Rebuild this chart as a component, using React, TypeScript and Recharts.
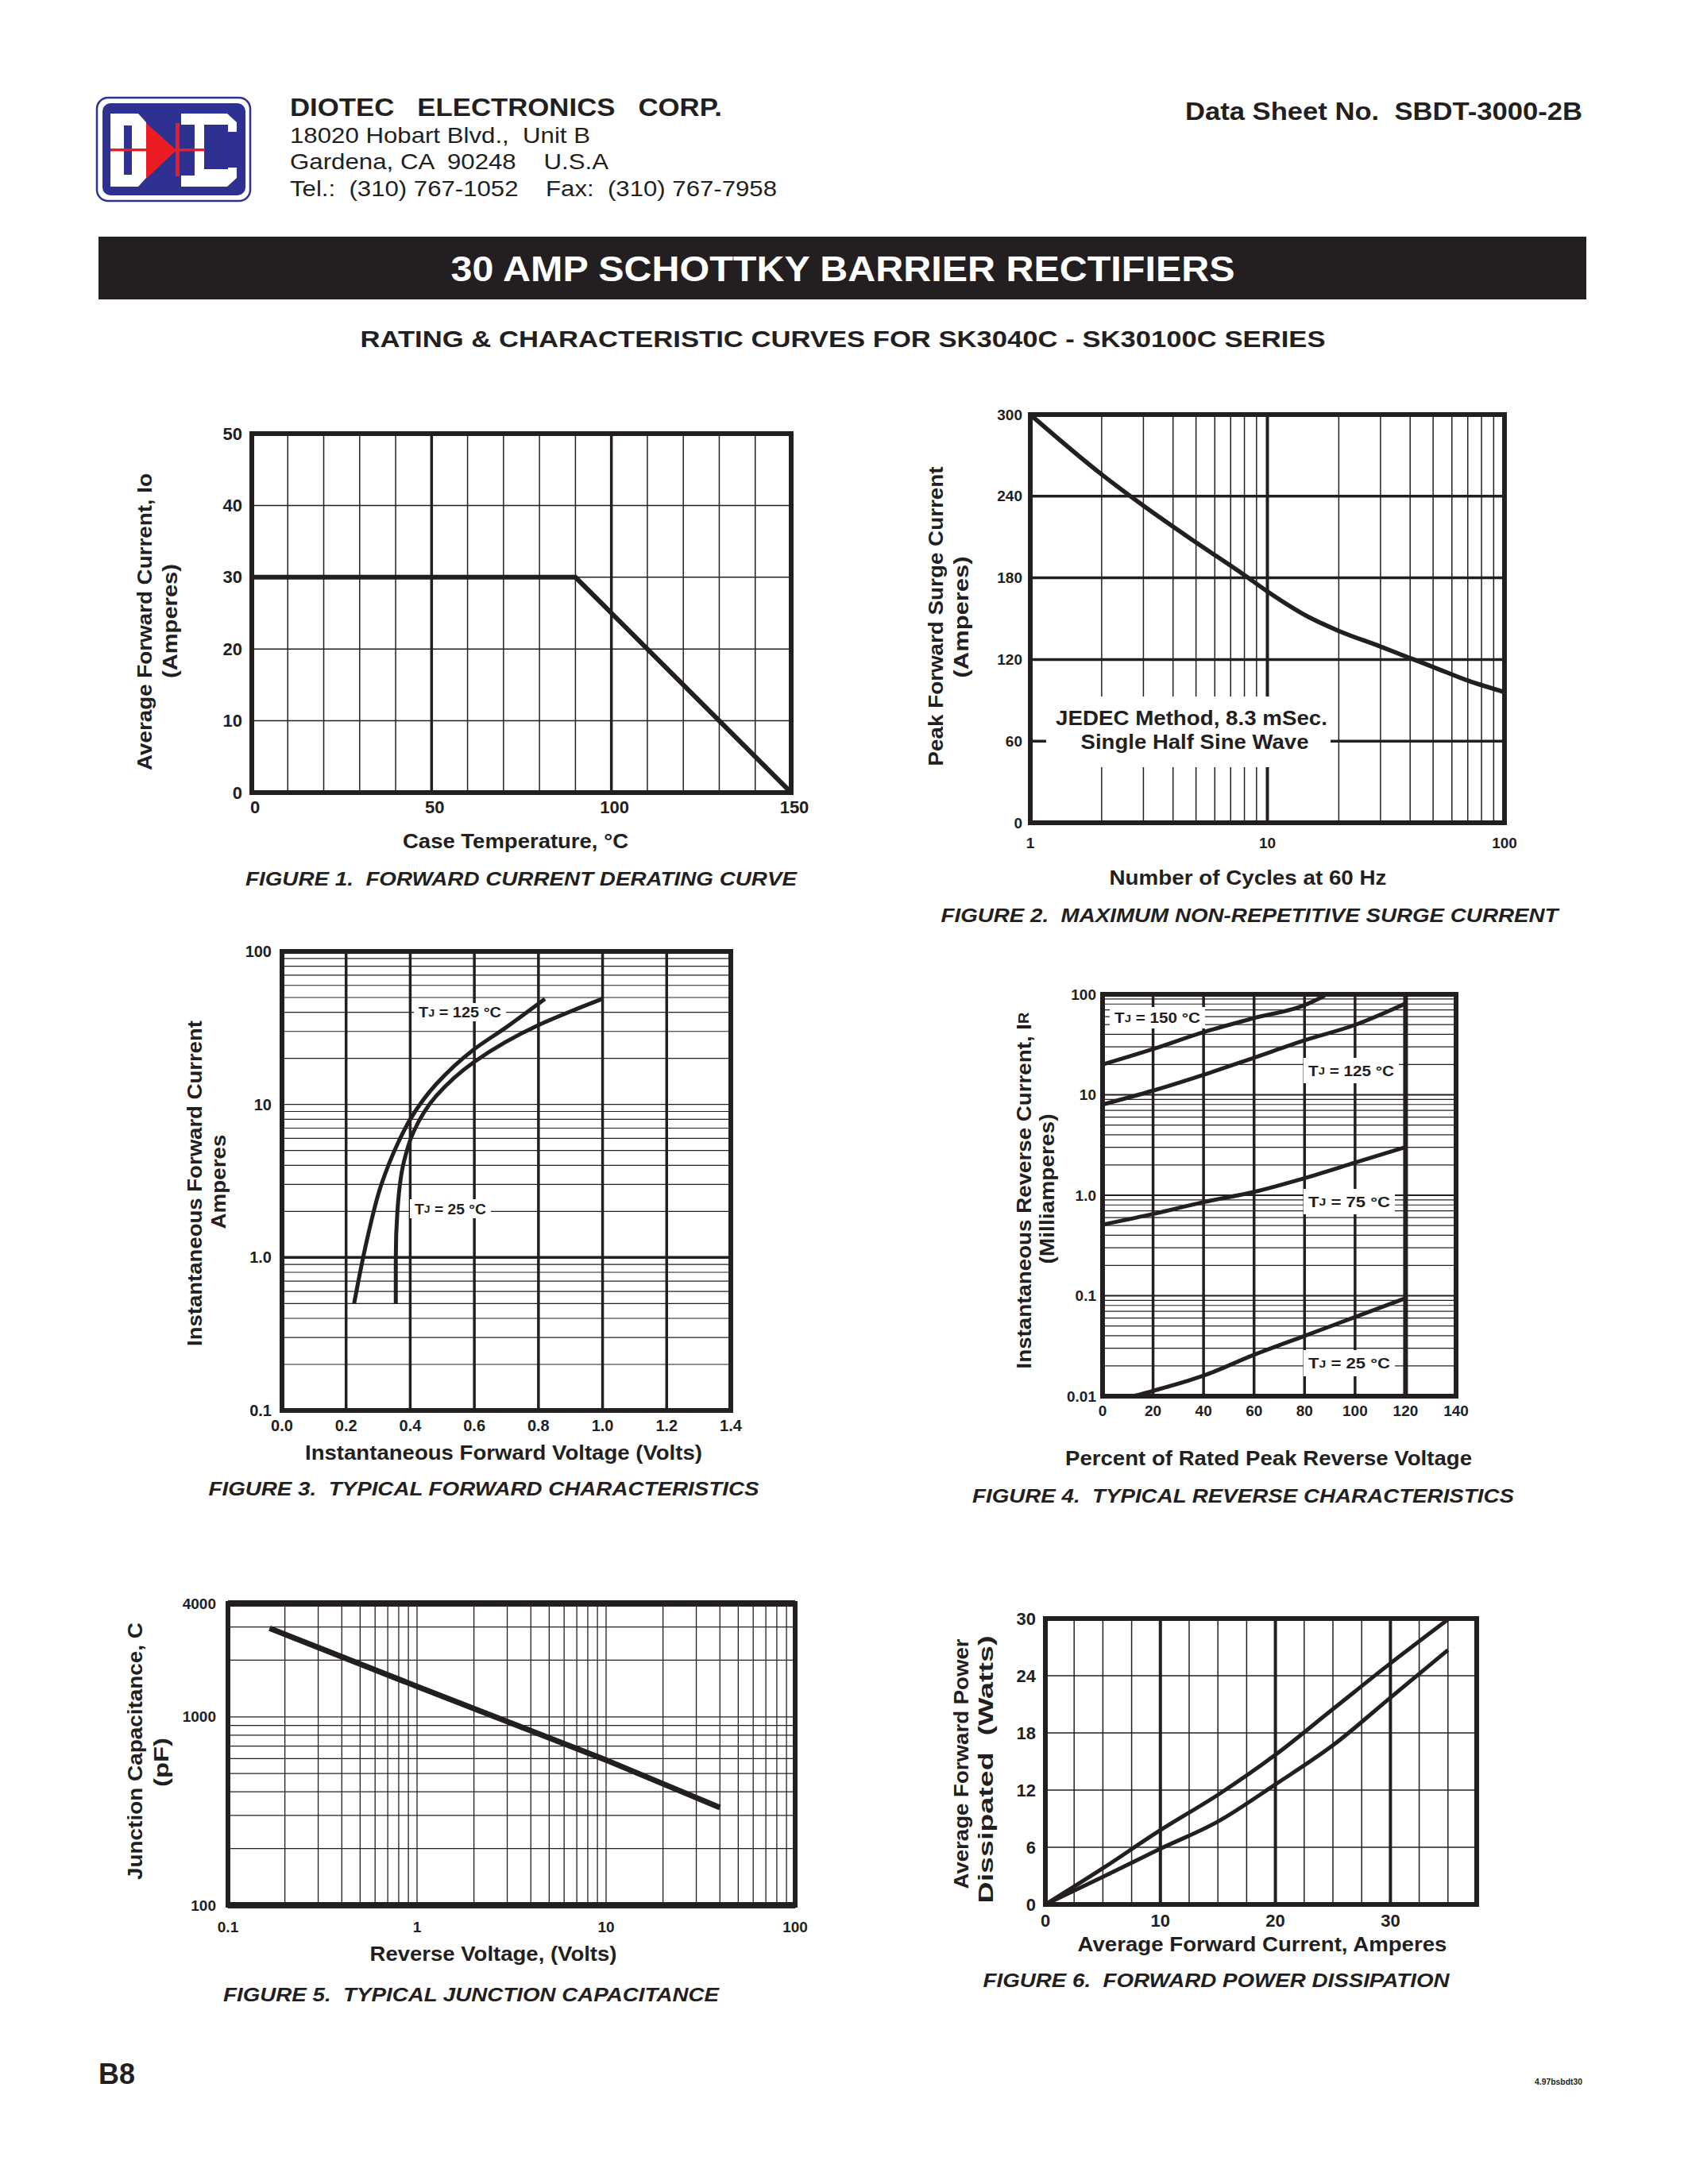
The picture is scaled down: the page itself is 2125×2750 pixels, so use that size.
import React from "react";
import { LineChart, Line, XAxis, YAxis, ReferenceLine, ReferenceArea } from "recharts";

const INK = "#231f20";
const BLUE = "#2e3192";
const RED = "#ed1c24";
const FONT = "'Liberation Sans', Arial, Helvetica, sans-serif";

// Figure 1 - derating
const fig1Temp = [0, 90, 150];
const fig1Current = [30, 30, 0];
const fig1XTicks = [0, 50, 100, 150];
const fig1YTicks = [0, 10, 20, 30, 40, 50];

// Figure 2 - surge current
const fig2Cycles = [1, 2, 3, 5, 8, 10, 15, 20, 30, 40, 50, 70, 100];
const fig2Surge = [300, 256, 233, 206, 182, 170, 151, 141, 129.5, 121, 114.5, 104.5, 96];
const fig2XTicks = [1, 10, 100];
const fig2YTicks = [0, 60, 120, 180, 240, 300];

// Figure 3 - forward characteristics
const fig3Volt125 = [0.225, 0.265, 0.31, 0.36, 0.4, 0.48, 0.6, 0.7, 0.82];
const fig3Amp125 = [0.5, 1.3, 3.0, 5.5, 8.0, 13.5, 23, 32, 49];
const fig3Volt25 = [0.355, 0.355, 0.36, 0.38, 0.41, 0.48, 0.6, 0.8, 1.0];
const fig3Amp25 = [0.5, 1.0, 2.0, 4.2, 6.6, 11.3, 19, 33, 49];
const fig3XTicks = [0, 0.2, 0.4, 0.6, 0.8, 1.0, 1.2, 1.4];
const fig3XLabels = ["0.0", "0.2", "0.4", "0.6", "0.8", "1.0", "1.2", "1.4"];
const fig3YTicks = [0.1, 1, 10, 100];
const fig3YLabels = ["0.1", "1.0", "10", "100"];

// Figure 4 - reverse characteristics
const fig4Pct150 = [0, 20, 40, 60, 80, 88];
const fig4Ir150 = [20, 28.5, 42, 58, 78, 97];
const fig4Pct125 = [0, 20, 40, 60, 80, 100, 120];
const fig4Ir125 = [8, 11, 15.8, 23.4, 34.8, 49.6, 81];
const fig4Pct75 = [0, 20, 40, 60, 80, 100, 120];
const fig4Ir75 = [0.51, 0.65, 0.855, 1.08, 1.48, 2.11, 3.02];
const fig4Pct25 = [12, 20, 40, 60, 80, 100, 120];
const fig4Ir25 = [0.01, 0.0113, 0.016, 0.0258, 0.0398, 0.0613, 0.0946];
const fig4XTicks = [0, 20, 40, 60, 80, 100, 120, 140];
const fig4YTicks = [0.01, 0.1, 1, 10, 100];
const fig4YLabels = ["0.01", "0.1", "1.0", "10", "100"];

// Figure 5 - junction capacitance
const fig5Volt = [0.166, 1, 10, 40];
const fig5Cap = [2950, 1450, 590, 330];
const fig5XTicks = [0.1, 1, 10, 100];
const fig5YTicks = [100, 1000, 4000];

// Figure 6 - power dissipation
const fig6AmpA = [0, 5, 10, 15, 20, 25, 30, 35];
const fig6WattA = [0, 3.8, 7.8, 11.5, 15.7, 20.5, 25.3, 29.9];
const fig6AmpB = [0, 5, 10, 15, 20, 25, 30, 35];
const fig6WattB = [0, 2.9, 5.85, 8.7, 12.6, 16.7, 21.7, 26.7];
const fig6XTicks = [0, 10, 20, 30];
const fig6YTicks = [0, 6, 12, 18, 24, 30];
const fig6XMinor = [2.5, 5, 7.5, 12.5, 15, 17.5, 22.5, 25, 27.5, 32.5, 35];

const zip = (xs: number[], ys: number[]) => xs.map((x, i) => ({ x, y: ys[i] }));

// 2..9 multiples of each decade between lo and hi
const logGrid = (lo: number, hi: number) => {
  const out: number[] = [];
  for (let d = lo; d < hi; d *= 10) {
    for (let m = 2; m <= 9; m++) {
      const v = +(d * m).toPrecision(3);
      if (v < hi) out.push(v);
    }
  }
  return out;
};

type Box = { x: number; y: number; w: number; h: number };

function tickText(size: number, anchor: "end" | "middle", dx = 0, values?: number[], labels?: string[]) {
  return (p: any) => {
    const v = p.payload?.value;
    const i = values ? values.indexOf(v) : -1;
    const label = i >= 0 && labels ? labels[i] : String(v);
    return (
      <text x={p.x + dx} y={p.y} textAnchor={anchor} dominantBaseline="central" fontSize={size}
        fontWeight="bold" fontFamily={FONT} fill={INK}>
        {label}
      </text>
    );
  };
}

const vLines = (vals: number[], w: number) =>
  vals.map((v) => <ReferenceLine key={`v${v}-${w}`} x={v} stroke={INK} strokeWidth={w} />);
const hLines = (vals: number[], w: number) =>
  vals.map((v) => <ReferenceLine key={`h${v}-${w}`} y={v} stroke={INK} strokeWidth={w} />);

function Chart(props: {
  box: Box;
  xDomain: [number, number];
  yDomain: [number, number];
  xLog?: boolean;
  yLog?: boolean;
  xTicks: number[];
  yTicks: number[];
  xGap: number;
  yGap: number;
  xTick: any;
  yTick: any;
  children: React.ReactNode;
}) {
  const { box } = props;
  return (
    <div style={{ position: "absolute", left: box.x - 100, top: box.y - 20 }}>
      <LineChart width={box.w + 140} height={box.h + 70} margin={{ top: 20, right: 40, bottom: 10, left: 0 }}>
        <XAxis type="number" dataKey="x" scale={props.xLog ? "log" : "linear"} domain={props.xDomain}
          ticks={props.xTicks} interval={0} allowDataOverflow axisLine={false} tickLine={false}
          tickSize={0} tickMargin={props.xGap} height={40} tick={props.xTick} />
        <YAxis type="number" dataKey="y" scale={props.yLog ? "log" : "linear"} domain={props.yDomain}
          ticks={props.yTicks} interval={0} allowDataOverflow axisLine={false} tickLine={false}
          tickSize={0} tickMargin={props.yGap} width={100} tick={props.yTick} />
        {props.children}
        <ReferenceArea x1={props.xDomain[0]} x2={props.xDomain[1]} y1={props.yDomain[0]} y2={props.yDomain[1]}
          fill="none" fillOpacity={0} stroke={INK} strokeWidth={6} />
      </LineChart>
    </div>
  );
}

function curve(data: { x: number; y: number }[], width: number, type: any = "monotone") {
  return (
    <Line data={data} dataKey="y" type={type} stroke={INK} strokeWidth={width} dot={false}
      activeDot={false} isAnimationActive={false} />
  );
}

function Txt(p: {
  x: number; y: number; size: number; children: React.ReactNode; len?: number;
  anchor?: "start" | "middle" | "end"; weight?: string; italic?: boolean; rot?: boolean; fill?: string;
}) {
  const transform = p.rot ? `translate(${p.x},${p.y}) rotate(-90)` : undefined;
  return (
    <text x={p.rot ? 0 : p.x} y={p.rot ? 0 : p.y} transform={transform}
      textAnchor={p.anchor ?? "middle"} dominantBaseline="central" fontSize={p.size}
      fontWeight={p.weight ?? "bold"} fontStyle={p.italic ? "italic" : "normal"} fontFamily={FONT}
      fill={p.fill ?? INK} textLength={p.len} lengthAdjust={p.len ? "spacingAndGlyphs" : undefined}
      style={{ whiteSpace: "pre" }}>
      {p.children}
    </text>
  );
}

function TjLabel(p: { x: number; y: number; w: number; h: number; temp: string; size: number }) {
  return (
    <g>
      <rect x={p.x} y={p.y} width={p.w} height={p.h} fill="#fff" />
      <Txt x={p.x + 6} y={p.y + p.h / 2} size={p.size} anchor="start" len={p.w - 12}>
        T<tspan fontSize={p.size * 0.72}>J</tspan> = {p.temp} °C
      </Txt>
    </g>
  );
}

const fig1Box: Box = { x: 317, y: 546, w: 679, h: 452 };
const fig2Box: Box = { x: 1297, y: 522, w: 597, h: 514 };
const fig3Box: Box = { x: 355, y: 1198, w: 565, h: 578 };
const fig4Box: Box = { x: 1388, y: 1252, w: 445, h: 506 };
const fig5Box: Box = { x: 287, y: 2019, w: 714, h: 380 };
const fig6Box: Box = { x: 1316, y: 2038, w: 543, h: 360 };

export default function App() {
  return (
    <div style={{ position: "absolute", left: 0, top: 0, width: 2125, height: 2750, background: "#fff", overflow: "hidden" }}>
      {/* Figure 1 */}
      <Chart box={fig1Box} xDomain={[0, 150]} yDomain={[0, 50]} xTicks={fig1XTicks} yTicks={fig1YTicks}
        xGap={18} yGap={12} xTick={tickText(22, "middle", 4)} yTick={tickText(22, "end")}>
        {vLines([10, 20, 30, 40, 60, 70, 80, 90, 110, 120, 130, 140], 1.5)}
        {vLines([50, 100], 3.5)}
        {hLines([10, 20, 30, 40], 1.5)}
        {curve(zip(fig1Temp, fig1Current), 6, "linear")}
      </Chart>

      {/* Figure 2 */}
      <Chart box={fig2Box} xDomain={[1, 100]} yDomain={[0, 300]} xLog xTicks={fig2XTicks} yTicks={fig2YTicks}
        xGap={25} yGap={10} xTick={tickText(19, "middle")} yTick={tickText(19, "end")}>
        {vLines(logGrid(1, 100).filter((v) => v !== 10), 1.5)}
        {vLines([10], 4)}
        {hLines([60, 120, 180, 240], 3.5)}
        {curve(zip(fig2Cycles, fig2Surge), 5.5)}
      </Chart>

      {/* Figure 3 */}
      <Chart box={fig3Box} xDomain={[0, 1.4]} yDomain={[0.1, 100]} yLog xTicks={fig3XTicks} yTicks={fig3YTicks}
        xGap={19} yGap={13} xTick={tickText(20, "middle", 0, fig3XTicks, fig3XLabels)}
        yTick={tickText(20, "end", 0, fig3YTicks, fig3YLabels)}>
        {hLines([...logGrid(0.1, 100), 10], 1.2)}
        {hLines([1], 3.5)}
        {vLines([0.2, 0.4, 0.6, 0.8, 1.0, 1.2], 3.5)}
        {curve(zip(fig3Volt125, fig3Amp125), 5, "monotoneY")}
        {curve(zip(fig3Volt25, fig3Amp25), 5, "monotoneY")}
      </Chart>

      {/* Figure 4 */}
      <Chart box={fig4Box} xDomain={[0, 140]} yDomain={[0.01, 100]} yLog xTicks={fig4XTicks} yTicks={fig4YTicks}
        xGap={18} yGap={8} xTick={tickText(19, "middle")} yTick={tickText(19, "end", 0, fig4YTicks, fig4YLabels)}>
        {hLines(logGrid(0.01, 100), 1.2)}
        {hLines([0.1, 1, 10], 2.2)}
        {vLines([20, 40, 60, 80, 100], 3.5)}
        {vLines([120], 6)}
        {curve(zip(fig4Pct150, fig4Ir150), 5)}
        {curve(zip(fig4Pct125, fig4Ir125), 5)}
        {curve(zip(fig4Pct75, fig4Ir75), 5)}
        {curve(zip(fig4Pct25, fig4Ir25), 5)}
      </Chart>

      {/* Figure 5 */}
      <Chart box={fig5Box} xDomain={[0.1, 100]} yDomain={[100, 4000]} xLog yLog xTicks={fig5XTicks} yTicks={fig5YTicks}
        xGap={27} yGap={15} xTick={tickText(19, "middle")} yTick={tickText(19, "end")}>
        {vLines([...logGrid(0.1, 100), 1, 10], 1.3)}
        {hLines([...logGrid(100, 4000), 1000], 1.3)}
        {hLines([100, 4000], 8)}
        {curve(zip(fig5Volt, fig5Cap), 7, "linear")}
      </Chart>

      {/* Figure 6 */}
      <Chart box={fig6Box} xDomain={[0, 37.5]} yDomain={[0, 30]} xTicks={fig6XTicks} yTicks={fig6YTicks}
        xGap={20} yGap={12} xTick={tickText(22, "middle")} yTick={tickText(22, "end")}>
        {vLines(fig6XMinor, 1.5)}
        {vLines([10, 20, 30], 4)}
        {hLines([6, 12, 18, 24], 1.5)}
        {curve(zip(fig6AmpA, fig6WattA), 5)}
        {curve(zip(fig6AmpB, fig6WattB), 5)}
      </Chart>

      <svg width={2125} height={2750} style={{ position: "absolute", left: 0, top: 0, pointerEvents: "none" }}>
        {/* logo */}
        <rect x={122} y={123} width={193} height={130} rx={14} fill="none" stroke={BLUE} strokeWidth={2.5} />
        <rect x={129} y={130} width={180} height={116} rx={10} fill={BLUE} />
        <polygon points="139,143 174,143 184,154 184,224 174,235 139,235" fill="#fff" />
        <rect x={156} y={158} width={10} height={62} fill={BLUE} />
        <polygon points="228,143 286,143 298,154 298,224 286,235 228,235" fill="#fff" />
        <rect x={228} y={157} width={17} height={64} fill={BLUE} />
        <rect x={257} y={157} width={30} height={56} fill={BLUE} />
        <rect x={286} y={166} width={13} height={45} fill={BLUE} />
        <polygon points="184,155 184,225 222,189" fill={RED} />
        <rect x={221} y={155} width={5} height={67} fill={RED} />
        <rect x={139} y={187} width={119} height={3.5} fill={RED} />

        {/* header */}
        <Txt x={365} y={135} size={31} anchor="start" len={544}>DIOTEC   ELECTRONICS   CORP.</Txt>
        <Txt x={365} y={170} size={28} anchor="start" weight="normal" len={378}>18020 Hobart Blvd.,  Unit B</Txt>
        <Txt x={365} y={203} size={28} anchor="start" weight="normal" len={401}>Gardena, CA  90248    U.S.A</Txt>
        <Txt x={365} y={237} size={28} anchor="start" weight="normal" len={613}>Tel.:  (310) 767-1052    Fax:  (310) 767-7958</Txt>
        <Txt x={1992} y={140} size={31} anchor="end" len={500}>Data Sheet No.  SBDT-3000-2B</Txt>

        <rect x={124} y={298} width={1873} height={79} fill={INK} />
        <Txt x={1061} y={338} size={44} fill="#fff" len={987}>30 AMP SCHOTTKY BARRIER RECTIFIERS</Txt>
        <Txt x={1061} y={426} size={30} len={1215}>RATING &amp; CHARACTERISTIC CURVES FOR SK3040C - SK30100C SERIES</Txt>

        {/* figure 1 text */}
        <Txt x={182} y={783} size={25} rot len={374}>Average Forward Current, Io</Txt>
        <Txt x={214} y={782} size={25} rot len={144}>(Amperes)</Txt>
        <Txt x={649} y={1059} size={25} len={284}>Case Temperature, °C</Txt>
        <Txt x={656} y={1106} size={24} italic len={694}>FIGURE 1.  FORWARD CURRENT DERATING CURVE</Txt>

        {/* figure 2 text */}
        <rect x={1317} y={877} width={358} height={89} fill="#fff" />
        <Txt x={1500} y={904} size={25} len={342}>JEDEC Method, 8.3 mSec.</Txt>
        <Txt x={1504} y={934} size={25} len={287}>Single Half Sine Wave</Txt>
        <Txt x={1178} y={776} size={25} rot len={377}>Peak Forward Surge Current</Txt>
        <Txt x={1210} y={777} size={25} rot len={153}>(Amperes)</Txt>
        <Txt x={1571} y={1105} size={25} len={349}>Number of Cycles at 60 Hz</Txt>
        <Txt x={1573} y={1152} size={24} italic len={777}>FIGURE 2.  MAXIMUM NON-REPETITIVE SURGE CURRENT</Txt>

        {/* figure 3 text */}
        <TjLabel x={521} y={1263} w={116} h={23} temp="125" size={19} />
        <TjLabel x={516} y={1510} w={102} h={24} temp="25" size={19} />
        <Txt x={245} y={1490} size={25} rot len={410}>Instantaneous Forward Current</Txt>
        <Txt x={275} y={1488} size={25} rot len={119}>Amperes</Txt>
        <Txt x={634} y={1829} size={25} len={500}>Instantaneous Forward Voltage (Volts)</Txt>
        <Txt x={609} y={1874} size={24} italic len={693}>FIGURE 3.  TYPICAL FORWARD CHARACTERISTICS</Txt>

        {/* figure 4 text */}
        <TjLabel x={1397} y={1268} w={120} h={27} temp="150" size={19} />
        <TjLabel x={1641} y={1332} w={120} h={32} temp="125" size={19} />
        <TjLabel x={1641} y={1497} w={115} h={32} temp="75" size={19} />
        <TjLabel x={1641} y={1700} w={115} h={33} temp="25" size={19} />
        <Txt x={1289} y={1499} size={25} rot len={449}>
          Instantaneous Reverse Current, I<tspan fontSize={18}>R</tspan>
        </Txt>
        <Txt x={1318} y={1497} size={25} rot len={189}>(Milliamperes)</Txt>
        <Txt x={1597} y={1836} size={25} len={512}>Percent of Rated Peak Reverse Voltage</Txt>
        <Txt x={1565} y={1883} size={24} italic len={682}>FIGURE 4.  TYPICAL REVERSE CHARACTERISTICS</Txt>

        {/* figure 5 text */}
        <Txt x={170} y={2205} size={25} rot len={324}>Junction Capacitance, C</Txt>
        <Txt x={203} y={2219} size={25} rot len={62}>(pF)</Txt>
        <Txt x={621} y={2460} size={25} len={311}>Reverse Voltage, (Volts)</Txt>
        <Txt x={593} y={2511} size={24} italic len={624}>FIGURE 5.  TYPICAL JUNCTION CAPACITANCE</Txt>

        {/* figure 6 text */}
        <Txt x={1210} y={2221} size={25} rot len={315}>Average Forward Power</Txt>
        <Txt x={1241} y={2228} size={25} rot len={337}>Dissipated  (Watts)</Txt>
        <Txt x={1589} y={2448} size={25} len={465}>Average Forward Current, Amperes</Txt>
        <Txt x={1531} y={2493} size={24} italic len={587}>FIGURE 6.  FORWARD POWER DISSIPATION</Txt>

        {/* footer */}
        <Txt x={124} y={2611} size={36} anchor="start">B8</Txt>
        <Txt x={1992} y={2621} size={10} anchor="end" len={60}>4.97bsbdt30</Txt>
      </svg>
    </div>
  );
}
